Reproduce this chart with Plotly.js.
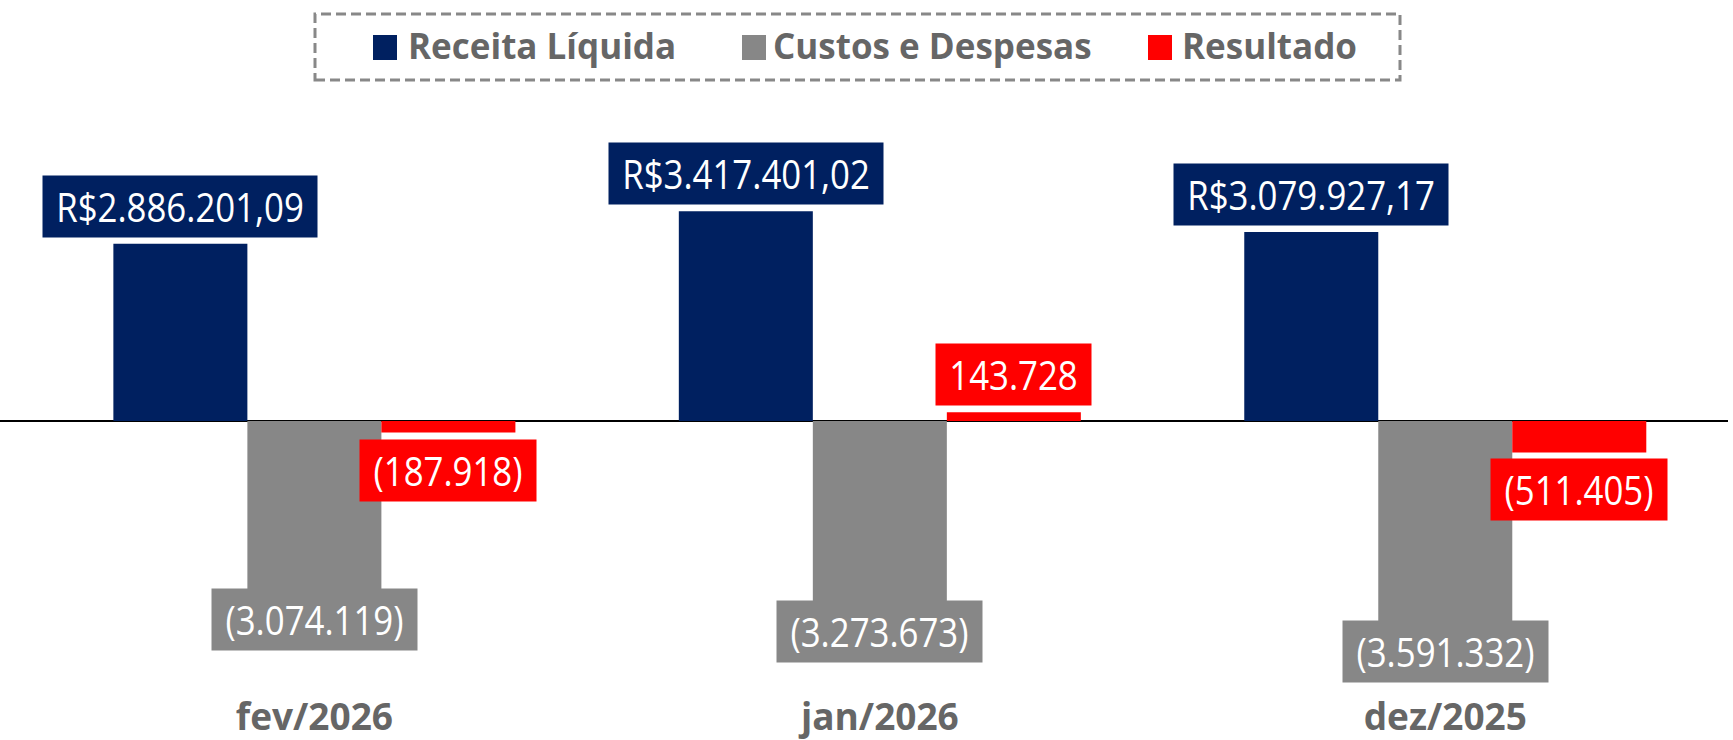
<!DOCTYPE html>
<html>
<head>
<meta charset="utf-8">
<script src="https://cdn.plot.ly/plotly-3.0.1.min.js"></script>
<style>
html, body { margin: 0; padding: 0; background: #ffffff; }
#chart { width: 1733px; height: 740px; }
</style>
</head>
<body>
<div id="chart"></div>
<script>
// ---------- data ----------
const categories = ['fev/2026', 'jan/2026', 'dez/2025'];
const seriesNames = ['Receita Líquida', 'Custos e Despesas', 'Resultado'];
const receita = [2886201.09, 3417401.02, 3079927.17];
const custos = [-3074119, -3273673, -3591332];
const resultado = [-187918, 143728, -511405];

// ---------- styling ----------
const colors = ['#002060', '#878787', '#FF0000'];
const W = 1733, H = 740;
const M = { l: 0, r: 5, t: 100, b: 80 };
const plotW = W - M.l - M.r, plotH = H - M.t - M.b;
const UNITS_PER_PX = 16290, ZERO_PX = 421;
const yRange = [-(H - M.b - ZERO_PX) * UNITS_PER_PX, (ZERO_PX - M.t) * UNITS_PER_PX];
const bargap = 0.289;
const barW = (1 - bargap) / 3;
const LABEL_SQUEEZE = 0.87;

function groupThousands(s) { return s.replace(/\B(?=(\d{3})+(?!\d))/g, '.'); }
function fmtCurrency(v) {
  const p = Math.abs(v).toFixed(2).split('.');
  return (v < 0 ? '-' : '') + 'R$' + groupThousands(p[0]) + ',' + p[1];
}
function fmtParen(v) {
  const s = groupThousands(String(Math.round(Math.abs(v))));
  return v < 0 ? '(' + s + ')' : s;
}

const series = [receita, custos, resultado];
const formatters = [fmtCurrency, fmtParen, fmtParen];

const data = series.map((vals, k) => ({
  type: 'bar',
  name: seriesNames[k],
  x: categories,
  y: vals,
  marker: { color: colors[k], line: { width: 0 } },
  hoverinfo: 'skip'
}));

// pixel -> paper helpers
const px = X => (X - M.l) / plotW;
const py = Y => (H - M.b - Y) / plotH;

const annotations = [];
const labelIdx = [];
series.forEach((vals, k) => {
  vals.forEach((v, i) => {
    let yanchor, yshift;
    if (k === 1) { yanchor = 'middle'; yshift = -10; }
    else if (v >= 0) { yanchor = 'bottom'; yshift = 6; }
    else { yanchor = 'top'; yshift = -6; }
    labelIdx.push(annotations.length);
    annotations.push({
      x: i + (k - 1) * barW, y: v, xref: 'x', yref: 'y',
      text: formatters[k](v), showarrow: false,
      xanchor: 'center', yanchor: yanchor, yshift: yshift,
      font: { family: 'Open Sans', size: 40, color: '#ffffff' },
      bgcolor: colors[k], borderpad: 3
    });
  });
});

// custom legend
const legSquareX = [373, 742, 1148];
const legTextX = [406, 771, 1180];
const shapes = [];
seriesNames.forEach((n, k) => {
  shapes.push({
    type: 'rect', xref: 'paper', yref: 'paper',
    x0: px(legSquareX[k]), x1: px(legSquareX[k] + 24),
    y0: py(60), y1: py(35),
    fillcolor: colors[k], line: { width: 0 }
  });
  annotations.push({
    x: px(legTextX[k]), y: py(46), xref: 'paper', yref: 'paper',
    text: n, showarrow: false, xanchor: 'left', yanchor: 'middle',
    font: { family: 'Open Sans', size: 35, color: '#666666', weight: 'bold' }
  });
});
shapes.push({
  type: 'rect', xref: 'paper', yref: 'paper',
  x0: px(315), x1: px(1400), y0: py(80), y1: py(14),
  line: { color: '#888888', width: 3, dash: '10px,5px' },
  fillcolor: 'rgba(0,0,0,0)'
});

const layout = {
  width: W, height: H,
  margin: M,
  paper_bgcolor: '#ffffff', plot_bgcolor: '#ffffff',
  showlegend: false,
  barmode: 'group', bargap: bargap, bargroupgap: 0,
  xaxis: {
    type: 'category', range: [-0.556, 2.5],
    showgrid: false, showline: false, zeroline: false, ticks: '',
    ticklabelstandoff: 32,
    tickfont: { family: 'Open Sans', size: 37, color: '#666666', weight: 'bold' }
  },
  yaxis: {
    range: yRange, showgrid: false, showline: false, showticklabels: false, ticks: '',
    zeroline: true, zerolinecolor: '#000000', zerolinewidth: 2
  },
  annotations: annotations,
  shapes: shapes
};

function labelGroup(gd, idx) {
  return gd.querySelector('g.annotation[data-index="' + idx + '"]');
}

Plotly.newPlot('chart', data, layout, { staticPlot: true, displayModeBar: false }).then(gd => {
  // size the label boxes for the narrower (condensed) label text
  const upd = {};
  labelIdx.forEach(idx => {
    const g = labelGroup(gd, idx);
    const t = g && g.querySelector('text.annotation-text');
    if (t) upd['annotations[' + idx + '].width'] = Math.ceil(t.getBBox().width * LABEL_SQUEEZE) + 20;
  });
  return Plotly.relayout(gd, upd);
}).then(gd => {
  labelIdx.forEach(idx => {
    const g = labelGroup(gd, idx);
    if (!g) return;
    g.querySelectorAll('[clip-path]').forEach(e => e.removeAttribute('clip-path'));
    const t = g.querySelector('text.annotation-text');
    if (!t) return;
    const bb = t.getBBox();
    const cx = bb.x + bb.width / 2;
    t.setAttribute('transform', 'translate(' + cx + ',0) scale(' + LABEL_SQUEEZE + ',1) translate(' + (-cx) + ',0)');
  });
});
</script>
</body>
</html>
